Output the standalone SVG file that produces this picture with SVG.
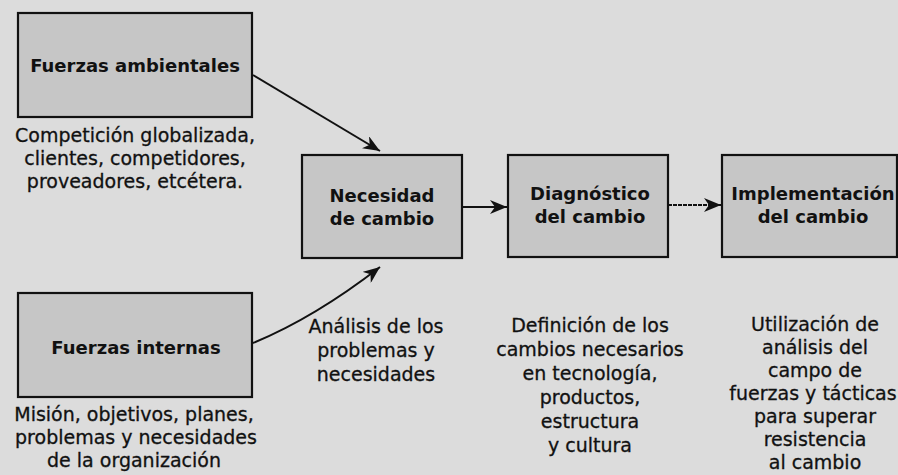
<svg xmlns="http://www.w3.org/2000/svg" width="898" height="475" viewBox="0 0 898 475">
<style>
.box{fill:#c6c6c6;stroke:#111;stroke-width:2.2}
.lbl{font-family:"DejaVu Sans",sans-serif;font-weight:bold;font-size:18px;fill:#111;text-anchor:middle}
.cap{font-family:"DejaVu Sans",sans-serif;font-size:19px;fill:#111;stroke:#111;stroke-width:0.3;text-anchor:middle}
.con{fill:none;stroke:#111;stroke-width:2}
</style>
<defs>
<marker id="ah" markerUnits="userSpaceOnUse" markerWidth="18" markerHeight="14" refX="17" refY="7" orient="auto">
<path d="M0,0 L17,7 L0,14 L5,7 z" fill="#111"/>
</marker>
</defs>
<rect x="0" y="0" width="898" height="475" fill="#dcdcdc"/>
<g id="fuerzas-ambientales">
<rect class="box" x="18" y="13" width="234" height="104"/>
<text class="lbl" x="135" y="72">Fuerzas ambientales</text>
<text class="cap" x="135" y="142">Competición globalizada,</text>
<text class="cap" x="135" y="165">clientes, competidores,</text>
<text class="cap" x="135" y="188">proveadores, etcétera.</text>
</g>
<g id="fuerzas-internas">
<rect class="box" x="18" y="293" width="234" height="104"/>
<text class="lbl" x="136" y="354">Fuerzas internas</text>
<text class="cap" x="134" y="421">Misión, objetivos, planes,</text>
<text class="cap" x="136" y="444">problemas y necesidades</text>
<text class="cap" x="134" y="467">de la organización</text>
</g>
<g id="necesidad">
<rect class="box" x="302" y="155" width="160" height="103"/>
<text class="lbl" x="382" y="202">Necesidad</text>
<text class="lbl" x="382" y="225">de cambio</text>
<text class="cap" x="376" y="333">Análisis de los</text>
<text class="cap" x="376" y="357">problemas y</text>
<text class="cap" x="376" y="381">necesidades</text>
</g>
<g id="diagnostico">
<rect class="box" x="508" y="155" width="160" height="102"/>
<text class="lbl" x="590" y="200">Diagnóstico</text>
<text class="lbl" x="590" y="223">del cambio</text>
<text class="cap" x="590" y="332">Definición de los</text>
<text class="cap" x="590" y="356">cambios necesarios</text>
<text class="cap" x="590" y="380">en tecnología,</text>
<text class="cap" x="590" y="404">productos,</text>
<text class="cap" x="590" y="428">estructura</text>
<text class="cap" x="590" y="452">y cultura</text>
</g>
<g id="implementacion">
<rect class="box" x="722" y="155" width="175" height="102"/>
<text class="lbl" x="813" y="200">Implementación</text>
<text class="lbl" x="813" y="223">del cambio</text>
<text class="cap" x="815" y="331">Utilización de</text>
<text class="cap" x="815" y="354">análisis del</text>
<text class="cap" x="815" y="377">campo de</text>
<text class="cap" x="813" y="400">fuerzas y tácticas</text>
<text class="cap" x="815" y="423">para superar</text>
<text class="cap" x="815" y="446">resistencia</text>
<text class="cap" x="815" y="469">al cambio</text>
</g>
<g id="connectors">
<line class="con" x1="253" y1="75" x2="380" y2="151" marker-end="url(#ah)"/>
<path class="con" d="M253,343 Q314,318 380,267" marker-end="url(#ah)"/>
<line class="con" x1="462" y1="207" x2="507" y2="207" marker-end="url(#ah)"/>
<line class="con" x1="668" y1="205" x2="721" y2="205" stroke-dasharray="4 1" marker-end="url(#ah)"/>
</g>
</svg>
